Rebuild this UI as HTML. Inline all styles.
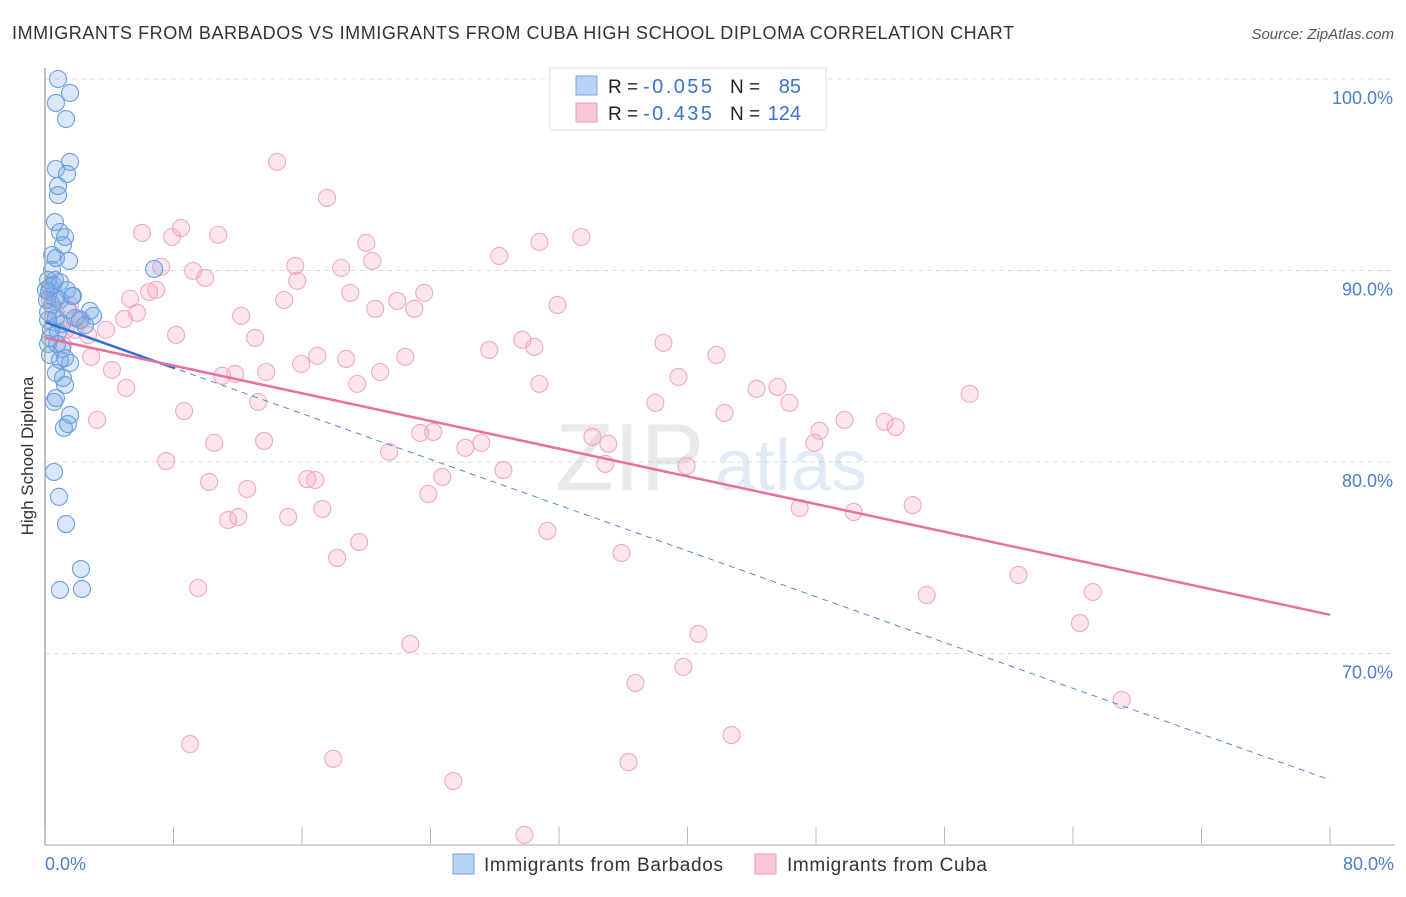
<!DOCTYPE html>
<html><head><meta charset="utf-8"><style>
body{margin:0;background:#fff;font-family:"Liberation Sans",sans-serif;}
svg text{font-family:"Liberation Sans",sans-serif;}
</style></head><body>
<svg id="chart" width="1406" height="892" viewBox="0 0 1406 892" xmlns="http://www.w3.org/2000/svg">
<text x="12" y="39" font-size="18" fill="#333" textLength="1002" lengthAdjust="spacing">IMMIGRANTS FROM BARBADOS VS IMMIGRANTS FROM CUBA HIGH SCHOOL DIPLOMA CORRELATION CHART</text>
<text x="1394" y="39" font-size="15" fill="#555" text-anchor="end" font-style="italic">Source: ZipAtlas.com</text>
<g id="grid"></g>
<g opacity="0.18">
<text x="555" y="490" font-size="96" font-family="Liberation Serif" fill="#888">ZIP</text>
<text x="715" y="490" font-size="72" fill="#5b93d8">atlas</text>
</g>
<g id="pts"></g>
<g id="trend"></g>
<line x1="45" y1="68" x2="45" y2="845" stroke="#aaa" stroke-width="1.5"/>
<line x1="45" y1="845" x2="1395" y2="845" stroke="#aaa" stroke-width="1"/>
<g id="ticks"></g>
<text transform="translate(33,456) rotate(-90)" font-size="17" fill="#333" text-anchor="middle">High School Diploma</text>
<text x="45" y="870" font-size="18" fill="#4a7fd0">0.0%</text>
<text x="1394" y="870" font-size="18" fill="#4a7fd0" text-anchor="end">80.0%</text>
<g>
<rect x="550" y="68" width="276" height="62" fill="#fff" stroke="#ddd"/>
<rect x="576" y="76" width="21" height="19" fill="#b8d3f5" stroke="#7aa7e0"/>
<rect x="576" y="103" width="21" height="19" fill="#f9c6d6" stroke="#eb9bb6"/>
<text x="608" y="93" font-size="19" fill="#222">R = </text>
<text x="643" y="93" font-size="20" fill="#3a72d0" textLength="69" lengthAdjust="spacing">-0.055</text>
<text x="730" y="93" font-size="19" fill="#222">N = </text>
<text x="801" y="93" font-size="20" fill="#3a72d0" text-anchor="end">85</text>
<text x="608" y="120" font-size="19" fill="#222">R = </text>
<text x="643" y="120" font-size="20" fill="#3a72d0" textLength="69" lengthAdjust="spacing">-0.435</text>
<text x="730" y="120" font-size="19" fill="#222">N = </text>
<text x="801" y="120" font-size="20" fill="#3a72d0" text-anchor="end">124</text>
</g>
<g>
<rect x="453" y="854" width="21" height="20" fill="#b8d3f5" stroke="#7aa7e0"/>
<text x="484" y="871" font-size="19" fill="#333" textLength="239" lengthAdjust="spacing">Immigrants from Barbados</text>
<rect x="755" y="854" width="21" height="20" fill="#f9c6d6" stroke="#eb9bb6"/>
<text x="787" y="871" font-size="19" fill="#333" textLength="200" lengthAdjust="spacing">Immigrants from Cuba</text>
</g>
</svg>
<script>
const yTicks=[100,90,80,70];
const yTickLabels=["100.0%","90.0%","80.0%","70.0%"];
const xTicks=[0,8,16,24,32,40,48,56,64,72,80];
const cubaX=[14.45,17.56,8.47,6.04,7.91,10.78,20.0,30.78,33.39,28.28,20.37,7.23,15.58,9.22,18.44,9.97,15.7,19.0,23.61,5.3,6.48,6.92,14.89,21.93,22.99,20.56,31.9,5.73,4.92,12.21,2.06,3.8,8.16,13.08,29.72,30.46,38.5,27.66,2.87,16.95,18.75,22.43,41.8,4.17,11.03,11.84,13.77,15.95,20.87,39.44,5.05,19.44,30.78,44.3,45.6,13.27,8.66,38.0,42.3,46.35,57.57,3.24,49.78,52.27,52.96,48.22,34.08,24.17,23.36,13.64,10.53,27.16,35.07,47.9,26.17,21.43,7.54,28.54,34.88,39.94,16.33,16.82,24.73,10.22,12.59,23.86,54.02,46.98,50.34,17.26,12.03,11.4,15.14,31.28,19.56,35.89,18.19,60.61,65.23,9.53,54.89,64.43,40.68,22.74,39.74,36.76,67.04,9.03,42.74,17.94,36.33,25.42,29.84,0.56,1.12,0.87,1.56,2.3,2.68,1.87,0.3,1.3];
const cubaY=[95.67,93.79,92.22,91.96,91.75,91.86,91.44,91.49,91.75,90.76,90.5,90.19,90.24,89.98,90.13,89.61,89.46,88.83,88.83,88.52,88.88,88.99,88.46,88.41,88.0,88.0,88.2,87.79,87.47,87.63,87.52,86.9,86.64,86.48,86.38,86.01,86.22,85.85,85.49,85.54,85.38,85.49,85.59,84.81,84.5,84.6,84.7,85.12,84.7,84.44,83.87,84.08,84.08,83.82,83.92,83.14,82.67,83.09,82.56,83.09,83.56,82.2,82.2,82.1,81.83,81.63,81.31,81.57,81.52,81.1,81.0,81.0,80.95,81.0,80.74,80.53,80.05,79.58,79.9,79.79,79.11,79.06,79.22,78.96,78.59,78.33,77.75,77.6,77.39,77.55,77.13,76.97,77.13,76.4,75.82,75.25,74.99,74.1,73.21,73.42,73.05,71.59,71.02,70.5,69.3,68.46,67.57,65.27,65.74,64.5,64.33,63.34,60.53,87.94,86.11,87.42,88.2,87.42,86.63,86.9,88.46,86.9];
const barbX=[0.81,1.56,0.68,1.31,1.56,0.68,1.37,0.81,0.81,0.62,0.93,1.25,1.12,0.44,0.68,1.5,6.79,0.19,0.93,0.31,1.37,1.68,0.25,0.62,0.93,2.8,2.99,1.74,0.44,0.19,0.68,1.06,2.49,0.37,0.31,0.75,0.19,1.06,1.25,1.56,0.68,1.12,1.25,0.68,0.56,1.56,1.43,1.18,0.56,0.87,1.31,2.24,0.93,2.3,0.44,0.06,0.19,0.81,1.43,1.87,0.62,0.31,0.93,2.18,0.12,0.5];
const barbY=[100,99.27,98.75,97.91,95.67,95.3,95.04,94.41,93.94,92.53,92.01,91.75,91.33,90.81,90.65,90.5,90.08,89.5,89.4,89.14,88.98,88.67,88.88,88.57,88.46,87.89,87.63,88.67,88.2,87.83,87.52,87.21,87.15,86.9,86.48,86.16,86.16,85.9,85.43,85.17,84.65,84.39,84.02,83.34,83.14,82.46,81.98,81.78,79.48,78.18,76.76,74.41,73.32,73.37,90.03,88.98,87.42,86.79,87.94,87.52,89.5,85.59,85.33,87.42,88.46,89.24];
const cubaTrend=[86.48,72.02];
const barbTrend=[87.31,63.4];
const barbSolidEnd=8.1;

const X=v=>45+v*(1285/80);
const Y=v=>79+(100-v)*19.15;
const NS="http://www.w3.org/2000/svg";
function mk(tag,attrs,parent){const e=document.createElementNS(NS,tag);for(const k in attrs)e.setAttribute(k,attrs[k]);parent.appendChild(e);return e;}
const grid=document.getElementById('grid'),ticks=document.getElementById('ticks'),pts=document.getElementById('pts'),trend=document.getElementById('trend');
yTicks.forEach((t,i)=>{
  const l=mk('line',{x1:45,x2:1395,y1:Y(t),y2:Y(t),stroke:'#ddd','stroke-dasharray':'5,4'},grid);
  
  
  const tx=mk('text',{x:1393,y:Y(t)+25,'font-size':18,fill:'#4a7fd0','text-anchor':'end'},ticks);
  tx.textContent=yTickLabels[i];
  
  
});
xTicks.forEach(t=>{
  const l=mk('line',{x1:X(t),x2:X(t),y1:827,y2:845,stroke:'#bbb'},ticks);
  
  
});
cubaX.forEach((x,i)=>{
  const c=mk('circle',{cx:X(x),cy:Y(cubaY[i]),r:8.5,fill:'rgba(244,160,190,0.28)',stroke:'#f0a9c1','stroke-width':1.1},pts);
  
  
});
barbX.forEach((x,i)=>{
  const c=mk('circle',{cx:X(x),cy:Y(barbY[i]),r:8.5,fill:'rgba(120,170,230,0.28)',stroke:'#6a9fe0','stroke-width':1.1},pts);
  
  
});
const bAt=v=>barbTrend[0]+(barbTrend[1]-barbTrend[0])*v/80;
const bd=mk('line',{x1:X(0),y1:Y(barbTrend[0]),x2:X(80),y2:Y(barbTrend[1]),stroke:'#4f8ad6','stroke-width':1,'stroke-dasharray':'6,5'},trend);


const bs=mk('line',{x1:X(0),y1:Y(barbTrend[0]),x2:X(barbSolidEnd),y2:Y(bAt(barbSolidEnd)),stroke:'#2e6fd6','stroke-width':2.5},trend);


const cl=mk('line',{x1:X(0),y1:Y(cubaTrend[0]),x2:X(80),y2:Y(cubaTrend[1]),stroke:'#e8709a','stroke-width':2.5},trend);


</script>
</body></html>
